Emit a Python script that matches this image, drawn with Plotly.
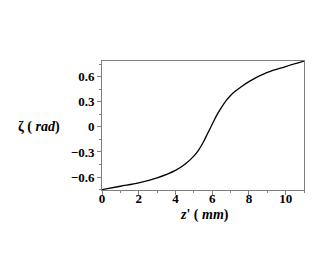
import plotly.graph_objects as go

z_mm = [0, 1, 2, 3, 4, 4.5, 5, 5.25, 5.5, 5.75, 6, 6.25, 6.5, 6.75, 7, 7.25, 7.5, 8, 9, 10, 11]
zeta_rad = [-0.75, -0.71, -0.67, -0.61, -0.52, -0.45, -0.35, -0.28, -0.19, -0.08, 0.03, 0.14,
            0.23, 0.31, 0.375, 0.425, 0.465, 0.54, 0.65, 0.72, 0.785]

x_ticks = [0, 2, 4, 6, 8, 10]
x_ticklabels = ["0", "2", "4", "6", "8", "10"]
y_ticks = [-0.6, -0.3, 0, 0.3, 0.6]
y_ticklabels = ["−0.6", "−0.3", "0", "0.3", "0.6"]

serif = "Liberation Serif"

fig = go.Figure()
fig.add_trace(go.Scatter(x=z_mm, y=zeta_rad, mode="lines",
                         line=dict(color="black", width=1.3, shape="spline", smoothing=1.0),
                         hoverinfo="skip", showlegend=False))

fig.update_layout(
    width=319, height=265,
    margin=dict(l=94, r=23, t=53, b=83),
    paper_bgcolor="white", plot_bgcolor="white",
    showlegend=False,
)
fig.update_xaxes(
    range=[0, 11], tickvals=x_ticks, ticktext=x_ticklabels,
    showgrid=False, zeroline=False,
    showline=True, linecolor="#808080", linewidth=1, mirror=True,
    ticks="outside", ticklen=4, tickcolor="#808080",
    minor=dict(dtick=1, ticklen=2, tickcolor="#808080", ticks="outside"),
    tickfont=dict(family=serif, size=13, color="black", weight="bold"),
    ticklabelstandoff=-8,
)
fig.update_yaxes(
    range=[-0.755, 0.787], tickvals=y_ticks, ticktext=y_ticklabels,
    showgrid=False, zeroline=False,
    showline=True, linecolor="#808080", linewidth=1, mirror=True,
    ticks="outside", ticklen=4, tickcolor="#808080",
    minor=dict(tickvals=[-0.75, -0.45, -0.15, 0.15, 0.45, 0.75], ticklen=2, tickcolor="#808080", ticks="outside"),
    tickfont=dict(family=serif, size=13, color="black", weight="bold"),
)

fig.add_annotation(text="ζ ( <i>rad</i>)", xref="paper", yref="y",
                   x=-0.198, y=0, xanchor="right", yanchor="middle", showarrow=False,
                   font=dict(family=serif, size=14, color="black", weight="bold"))
fig.add_annotation(text="<i>z</i>' ( <i>mm</i>)", xref="paper", yref="paper",
                   x=0.505, y=-0.115, xanchor="center", yanchor="top", showarrow=False,
                   font=dict(family=serif, size=14, color="black", weight="bold"))

fig.write_html("out.html")
